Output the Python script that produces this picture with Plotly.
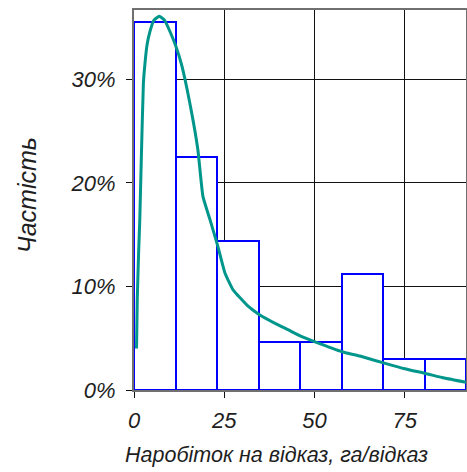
import plotly.graph_objects as go

# Histogram data
bin_edges = [0, 11.5, 23, 34.5, 46, 57.5, 69, 80.5, 92]
bar_pct = [35.5, 22.5, 14.4, 4.6, 4.6, 11.2, 3.0, 3.0]

# Fitted density curve
curve_x = [0.7, 0.9, 1.3, 1.6, 2.0, 2.6, 3.0, 3.6, 4.4, 5.5, 7.0, 8.5, 10.0, 11.6, 13.2,
           15.8, 17.7, 19.1, 21.1, 23.3, 25.2, 27.4, 31.3, 33.6, 34.9, 39.1, 42.8, 46.5,
           50.0, 57.6, 62.6, 69.6, 75.0, 80.7, 86.0, 92.0]
curve_y = [4.0, 8.7, 13.5, 16.4, 22.0, 29.6, 31.4, 33.3, 34.6, 35.7, 36.1, 35.7, 34.6, 33.2, 31.4,
           27.1, 23.2, 18.7, 16.4, 13.8, 11.3, 9.7, 8.2, 7.56, 7.25, 6.44, 5.8, 5.15,
           4.67, 3.7, 3.28, 2.57, 2.05, 1.6, 1.15, 0.74]

x_ticks = [0, 25, 50, 75]
y_ticks = [0, 10, 20, 30]

x_title = "Наробіток на відказ, га/відказ"
y_title = "Частість"

centers = [(a + b) / 2 for a, b in zip(bin_edges[:-1], bin_edges[1:])]
widths = [b - a for a, b in zip(bin_edges[:-1], bin_edges[1:])]

FONT = "Liberation Sans, Arial, sans-serif"
TXT = "#1e1e1e"

fig = go.Figure()
fig.add_trace(go.Bar(
    x=centers, y=bar_pct, width=widths,
    marker=dict(color="white", line=dict(color="#0000ff", width=2)),
    hoverinfo="skip", showlegend=False,
))
fig.add_trace(go.Scatter(
    x=curve_x, y=curve_y, mode="lines",
    line=dict(color="#00968c", width=3, shape="spline", smoothing=0.4),
    hoverinfo="skip", showlegend=False,
))

fig.update_layout(
    width=467, height=472,
    margin=dict(l=134, r=1, t=10, b=82),
    paper_bgcolor="white", plot_bgcolor="white",
    bargap=0,
    font=dict(family=FONT, color=TXT),
    xaxis=dict(
        range=[0, 92], tickvals=x_ticks, ticktext=[str(v) for v in x_ticks],
        showgrid=True, gridcolor="#111111", gridwidth=1.2,
        zeroline=False, showline=True, linecolor="#707070", linewidth=2, mirror=True,
        ticks="outside", ticklen=6, tickcolor="#111111", tickwidth=1,
        tickfont=dict(family=FONT, size=22, style="italic", color=TXT),
        ticklabelstandoff=4, layer="below traces", automargin=False,
    ),
    yaxis=dict(
        range=[0, 36.7], tickvals=y_ticks, ticktext=[f"{v}%" for v in y_ticks],
        showgrid=True, gridcolor="#111111", gridwidth=1.2,
        zeroline=False, showline=True, linecolor="#707070", linewidth=2, mirror=True,
        ticks="outside", ticklen=6, tickcolor="#111111", tickwidth=1,
        tickfont=dict(family=FONT, size=22, style="italic", color=TXT),
        ticklabelstandoff=6, layer="below traces", automargin=False,
    ),
    annotations=[
        dict(text=x_title, xref="paper", yref="paper", x=0.428, y=-0.171,
             xanchor="center", yanchor="middle", showarrow=False,
             font=dict(family=FONT, size=21.5, style="italic", color=TXT)),
        dict(text=y_title, xref="paper", yref="paper", x=-0.322, y=0.513,
             xanchor="center", yanchor="middle", showarrow=False, textangle=-90,
             font=dict(family=FONT, size=25, style="italic", color=TXT)),
    ],
)

fig.write_html(
    "out.html",
    config={"displayModeBar": False},
    post_script="document.body.style.margin='0';document.body.style.overflow='hidden';",
)
